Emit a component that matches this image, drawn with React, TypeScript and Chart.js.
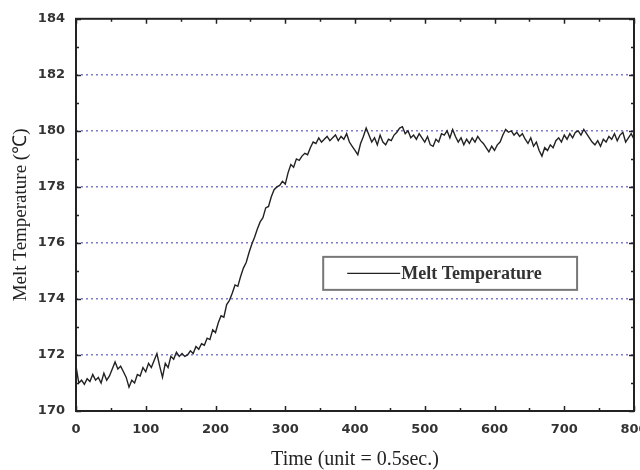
import React, { useEffect, useRef } from "react";
import { Chart, registerables } from "chart.js";

Chart.register(...registerables);

const SERIES_NAME = "Melt Temperature";
const X_TITLE = "Time (unit = 0.5sec.)";
const Y_TITLE = "Melt Temperature (℃)";
const X_STEP = 4; // sampling interval of the values below (time units)
const X_TICKS = [0, 100, 200, 300, 400, 500, 600, 700, 800];
const Y_TICKS = [170, 172, 174, 176, 178, 180, 182, 184];
const GRID_VALUES = [172, 174, 176, 178, 180, 182];

const meltTemp = [
  171.6, 171.0, 171.1, 170.95, 171.15, 171.05, 171.3, 171.1, 171.2, 171.0,
  171.35, 171.1, 171.25, 171.5, 171.75, 171.5, 171.6, 171.4, 171.2, 170.85,
  171.1, 171.0, 171.3, 171.25, 171.55, 171.4, 171.7, 171.55, 171.8, 172.05,
  171.6, 171.2, 171.7, 171.55, 171.95, 171.85, 172.1, 171.95, 172.05, 171.95,
  172.0, 172.15, 172.05, 172.3, 172.2, 172.4, 172.35, 172.6, 172.55, 172.9,
  172.8, 173.15, 173.4, 173.35, 173.8, 173.95, 174.2, 174.5, 174.45, 174.8,
  175.1, 175.3, 175.65, 175.95, 176.2, 176.5, 176.75, 176.9, 177.25, 177.3,
  177.65, 177.9, 178.0, 178.05, 178.2, 178.1, 178.5, 178.8, 178.7, 179.0,
  178.95, 179.1, 179.2, 179.15, 179.4, 179.6, 179.55, 179.75, 179.6, 179.7,
  179.8, 179.65, 179.75, 179.85, 179.65, 179.8, 179.7, 179.9, 179.6, 179.45,
  179.3, 179.15, 179.55, 179.8, 180.1, 179.85, 179.6, 179.75, 179.5, 179.85,
  179.6, 179.5, 179.7, 179.65, 179.85, 179.95, 180.1, 180.15, 179.9, 180.0,
  179.75, 179.85, 179.7, 179.9, 179.75, 179.6, 179.8, 179.5, 179.45, 179.7,
  179.6, 179.9, 179.85, 180.0, 179.75, 180.05, 179.8, 179.6, 179.75, 179.5,
  179.7, 179.55, 179.75, 179.6, 179.8, 179.65, 179.55, 179.4, 179.25, 179.45,
  179.3, 179.5, 179.6, 179.85, 180.05, 179.95, 180.0, 179.85, 179.95, 179.8,
  179.9, 179.7, 179.55, 179.75, 179.45, 179.6, 179.3, 179.1, 179.4, 179.3,
  179.5, 179.4, 179.65, 179.75, 179.6, 179.85, 179.7, 179.9, 179.75, 179.95,
  180.0, 179.85, 180.05, 179.9, 179.75, 179.6, 179.5, 179.65, 179.45, 179.7,
  179.6, 179.8, 179.7, 179.9, 179.65, 179.85, 179.95, 179.6, 179.75, 179.9,
  179.7,
];

const points = meltTemp.map((y, i) => ({ x: i * X_STEP, y }));

const framePlugin = {
  id: "frameTicksLegend",
  afterDatasetsDraw(chart: any) {
    const { ctx, chartArea: a, scales } = chart;
    const xs = scales.x;
    const ys = scales.y;
    ctx.save();
    // ticks (inward, mirrored)
    ctx.strokeStyle = "#222";
    ctx.lineWidth = 1.5;
    ctx.beginPath();
    for (let v = 0; v <= 800; v += 50) {
      const px = Math.round(xs.getPixelForValue(v)) + 0.5;
      const len = v % 100 === 0 ? 5 : 3;
      ctx.moveTo(px, a.bottom);
      ctx.lineTo(px, a.bottom - len);
      ctx.moveTo(px, a.top);
      ctx.lineTo(px, a.top + len);
    }
    for (let v = 170; v <= 184; v += 1) {
      const py = Math.round(ys.getPixelForValue(v)) + 0.5;
      const len = v % 2 === 0 ? 5 : 3;
      ctx.moveTo(a.left, py);
      ctx.lineTo(a.left + len, py);
      ctx.moveTo(a.right, py);
      ctx.lineTo(a.right - len, py);
    }
    ctx.stroke();
    // frame
    ctx.lineWidth = 2;
    ctx.strokeStyle = "#222";
    ctx.strokeRect(a.left, a.top, a.right - a.left, a.bottom - a.top);

    // legend box
    const w = a.right - a.left;
    const h = a.bottom - a.top;
    const bx = a.left + w * 0.443;
    const by = a.top + h * 0.607;
    const bw = w * 0.455;
    const bh = 33;
    ctx.fillStyle = "#fff";
    ctx.fillRect(bx, by, bw, bh);
    ctx.lineWidth = 2;
    ctx.strokeStyle = "#777";
    ctx.strokeRect(bx, by, bw, bh);
    const cy = by + bh / 2;
    ctx.strokeStyle = "#222";
    ctx.lineWidth = 1.2;
    ctx.beginPath();
    ctx.moveTo(bx + 24, cy);
    ctx.lineTo(bx + 77, cy);
    ctx.stroke();
    ctx.fillStyle = "#333";
    ctx.font = "bold 18px 'Liberation Serif', serif";
    ctx.textAlign = "left";
    ctx.textBaseline = "middle";
    ctx.fillText(SERIES_NAME, bx + 78, cy + 1);
    ctx.restore();
  },
};

export default function App() {
  const ref = useRef<HTMLCanvasElement | null>(null);
  useEffect(() => {
    if (!ref.current) return;
    const tickFont = { family: "'DejaVu Sans', sans-serif", size: 13, weight: "bold" as const };
    const chart = new Chart(ref.current, {
      type: "line",
      data: {
        datasets: [
          {
            label: SERIES_NAME,
            data: points,
            borderColor: "#222",
            borderWidth: 1.4,
            pointRadius: 0,
            tension: 0,
            fill: false,
          },
        ],
      },
      options: {
        responsive: false,
        animation: false,
        events: [],
        layout: { padding: { top: 17, right: 6, left: 0, bottom: 0 } },
        plugins: { legend: { display: false }, tooltip: { enabled: false } },
        scales: {
          x: {
            type: "linear",
            min: 0,
            max: 800,
            afterBuildTicks: (s: any) => {
              s.ticks = X_TICKS.map((v) => ({ value: v }));
            },
            afterFit: (s: any) => {
              s.height = 59;
              s.paddingLeft = 0;
              s.paddingRight = 0;
            },
            grid: { display: false, drawTicks: false },
            border: { display: false },
            ticks: { color: "#333", font: tickFont, padding: 11, maxRotation: 0 },
            title: {
              display: true,
              text: X_TITLE,
              color: "#222",
              font: { family: "'Liberation Serif', serif", size: 20, lineHeight: 1 },
              padding: { top: 0, bottom: 0 },
            },
          },
          y: {
            type: "linear",
            min: 170,
            max: 184,
            afterBuildTicks: (s: any) => {
              s.ticks = Y_TICKS.map((v) => ({ value: v }));
            },
            afterFit: (s: any) => {
              s.width = 76;
            },
            grid: {
              drawTicks: false,
              lineWidth: 1.5,
              color: (c: any) =>
                c.tick && GRID_VALUES.includes(c.tick.value) ? "#7b7bd6" : "rgba(0,0,0,0)",
            },
            border: { display: false, dash: [2, 3] },
            ticks: { color: "#333", font: tickFont, padding: 11 },
            title: {
              display: true,
              text: Y_TITLE,
              color: "#222",
              font: { family: "'Liberation Serif', serif", size: 19, lineHeight: 1 },
              padding: { top: 12, bottom: 0 },
            },
          },
        },
      },
      plugins: [framePlugin],
    });
    return () => chart.destroy();
  }, []);
  return (
    <div style={{ position: "fixed", left: 0, top: 0, width: 640, height: 470, background: "#fff" }}>
      <canvas ref={ref} width={640} height={470} />
    </div>
  );
}
